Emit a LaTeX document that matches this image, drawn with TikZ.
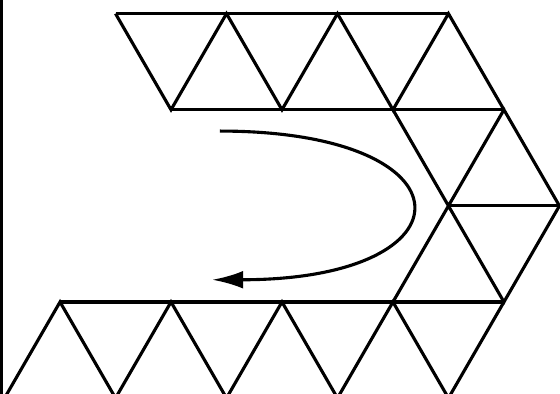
\documentclass[tikz,border=0pt]{standalone}
\usetikzlibrary{arrows.meta}

\begin{document}
\begin{tikzpicture}[scale=1, line width=0.8pt]
  \useasboundingbox (-0.541, -0.829) rectangle (4.505, 2.721);
  \clip (-0.541, -0.829) rectangle (4.505, 2.721);
  \draw (-0.53, -0.829) -- (-0.53, 2.721);

  % top strip
  \draw (0.5, 2.598) -- (3.5, 2.598);
  \draw (1, 1.732) -- (4, 1.732);
  \draw (0.5, 2.598) -- (1, 1.732) -- (1.5, 2.598) -- (2, 1.732) -- (2.5, 2.598)
    -- (3, 1.732) -- (3.5, 2.598) -- (4, 1.732);

  % right turn
  \draw (3, 1.732) -- (3.5, 0.866) -- (4, 1.732) -- (4.5, 0.866) -- (4, 0)
    -- (3.5, 0.866) -- (3, 0);
  \draw (3.5, 0.866) -- (4.5, 0.866);

  % bottom strip
  \draw (0, 0) -- (4, 0);
  \draw (-0.5, -0.866) -- (0, 0) -- (0.5, -0.866) -- (1, 0) -- (1.5, -0.866)
    -- (2, 0) -- (2.5, -0.866) -- (3, 0) -- (3.5, -0.866) -- (4, 0);

  % direction
  \coordinate (start) at (1.44, 1.54);
  \coordinate (end) at (1.37, 0.20);
  \draw[-{Latex[length=2.8mm, width=1.6mm]}]
    (start) .. controls (3.75, 1.54) and (3.75, 0.20) .. (end);
\end{tikzpicture}
\end{document}
